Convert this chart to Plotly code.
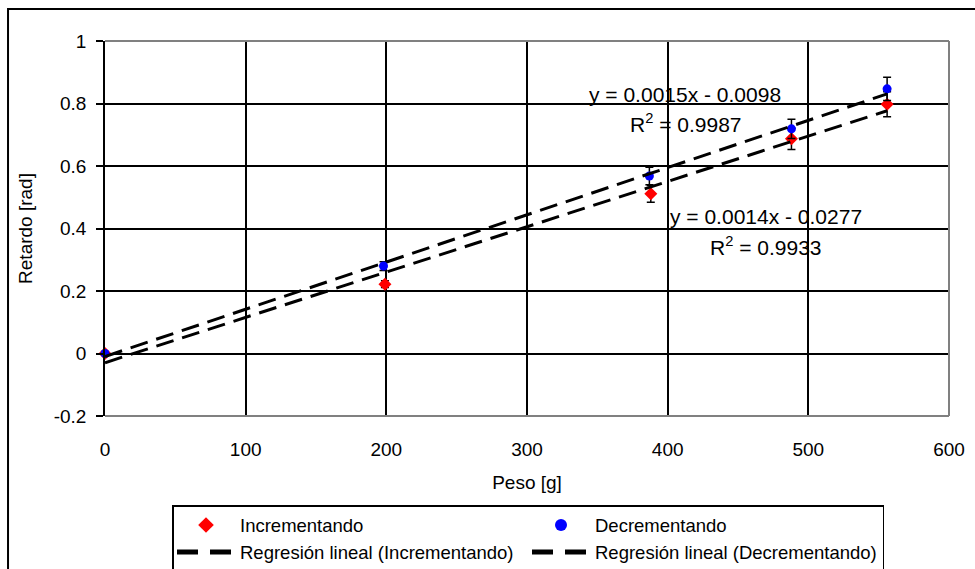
import numpy as np
import plotly.graph_objects as go

# ---- data ----
x_inc = [0, 199, 388, 488, 556]
y_inc = [0.0, 0.222, 0.511, 0.687, 0.798]
err_inc = [0.0, 0.011, 0.027, 0.034, 0.040]

x_dec = [0, 198, 387, 488, 556]
y_dec = [0.0, 0.280, 0.568, 0.719, 0.847]
err_dec = [0.0, 0.014, 0.028, 0.031, 0.037]

x_ticks = [0, 100, 200, 300, 400, 500, 600]
y_ticks = [-0.2, 0, 0.2, 0.4, 0.6, 0.8, 1]
y_tick_text = ["-0.2", "0", "0.2", "0.4", "0.6", "0.8", "1"]

eq_inc = "y = 0.0014x - 0.0277"
r2_inc = "R<sup>2</sup> = 0.9933"
eq_dec = "y = 0.0015x - 0.0098"
r2_dec = "R<sup>2</sup> = 0.9987"

FONT = "Liberation Sans, Arial, sans-serif"

# linear regressions from the data
m_i, b_i = np.polyfit(x_inc, y_inc, 1)
m_d, b_d = np.polyfit(x_dec, y_dec, 1)
xr_i = np.array([min(x_inc), max(x_inc)])
xr_d = np.array([min(x_dec), max(x_dec)])

fig = go.Figure()

fig.add_trace(go.Scatter(
    x=x_inc, y=y_inc, mode="markers", name="Incrementando", cliponaxis=False,
    marker=dict(symbol="diamond", color="#FF0000", size=10),
    error_y=dict(type="data", array=err_inc, color="black", thickness=1.5, width=4),
))
fig.add_trace(go.Scatter(
    x=x_dec, y=y_dec, mode="markers", name="Decrementando", cliponaxis=False,
    marker=dict(symbol="circle", color="#0000FF", size=9),
    error_y=dict(type="data", array=err_dec, color="black", thickness=1.5, width=4),
))
fig.add_trace(go.Scatter(
    x=xr_i, y=m_i * xr_i + b_i, mode="lines",
    name="Regresión lineal (Incrementando)", legendgroup="ri", showlegend=False,
    line=dict(color="black", width=3, dash="18px,9px"),
))
fig.add_trace(go.Scatter(
    x=xr_d, y=m_d * xr_d + b_d, mode="lines",
    name="Regresión lineal (Decrementando)", legendgroup="rd", showlegend=False,
    line=dict(color="black", width=3, dash="18px,9px"),
))
# legend samples for the regression lines (two long dashes, as in the reference)
for nm, grp in [("Regresión lineal (Incrementando)", "ri"),
                ("Regresión lineal (Decrementando)", "rd")]:
    fig.add_trace(go.Scatter(
        x=[None], y=[None], mode="lines", name=nm, legendgroup=grp,
        line=dict(color="black", width=3, dash="21px,12px"),
    ))

ann_font = dict(family=FONT, size=21, color="black")
for (tx, ax, ay) in [(eq_dec, 412, 0.830), (r2_dec, 413, 0.738),
                     (eq_inc, 470, 0.440), (r2_inc, 470, 0.344)]:
    fig.add_annotation(x=ax, y=ay, xref="x", yref="y", text=tx,
                       showarrow=False, font=ann_font)

# plot-area border (gray) on top, right, bottom
gray = "#808080"
fig.add_shape(type="line", xref="paper", yref="paper", x0=0, x1=1, y0=1, y1=1,
              line=dict(color=gray, width=2), layer="above")
fig.add_shape(type="line", xref="paper", yref="paper", x0=1, x1=1, y0=0, y1=1,
              line=dict(color=gray, width=2), layer="above")
fig.add_shape(type="line", xref="paper", yref="paper", x0=0, x1=1, y0=0, y1=0,
              line=dict(color=gray, width=2), layer="above")
# outer chart border
fig.add_shape(type="rect", xref="paper", yref="paper",
              x0=-0.1149, x1=1.04, y0=-0.42, y1=1.0853,
              line=dict(color="black", width=2), layer="above")

fig.update_layout(
    width=975, height=569,
    margin=dict(l=105, r=25.5, t=41, b=153, autoexpand=False),
    paper_bgcolor="white", plot_bgcolor="white",
    font=dict(family=FONT, size=19, color="black"),
    showlegend=True,
    legend=dict(
        orientation="h", xref="container", yref="container",
        x=172 / 975, y=1 - 505 / 569, xanchor="left", yanchor="top",
        itemwidth=58,
        entrywidth=282, entrywidthmode="pixels",
        bgcolor="white", bordercolor="black", borderwidth=1.5,
        font=dict(family=FONT, size=18.5, color="black"),
        tracegroupgap=0, itemsizing="constant",
    ),
    xaxis=dict(
        range=[0, 600], tickvals=x_ticks, showgrid=True, gridcolor="black",
        gridwidth=1.5, zeroline=False, showline=False, ticks="",
        automargin=False,
        ticklabelstandoff=20, tickfont=dict(size=19),
        title=dict(text="Peso [g]", font=dict(size=19), standoff=16),
    ),
    yaxis=dict(
        range=[-0.2, 1], tickvals=y_ticks, ticktext=y_tick_text,
        showgrid=True, gridcolor="black", gridwidth=1.5, zeroline=False,
        showline=True, linecolor="black", linewidth=1.5,
        automargin=False,
        ticks="outside", ticklen=7, tickcolor="black", tickwidth=1.5,
        ticklabelstandoff=6, tickfont=dict(size=19),
        title=dict(text="Retardo [rad]", font=dict(size=19), standoff=16),
    ),
)

fig.write_html(
    "out.html",
    config={"displayModeBar": False},
    post_script="document.body.style.margin='0px';document.body.style.overflow='hidden';",
)
